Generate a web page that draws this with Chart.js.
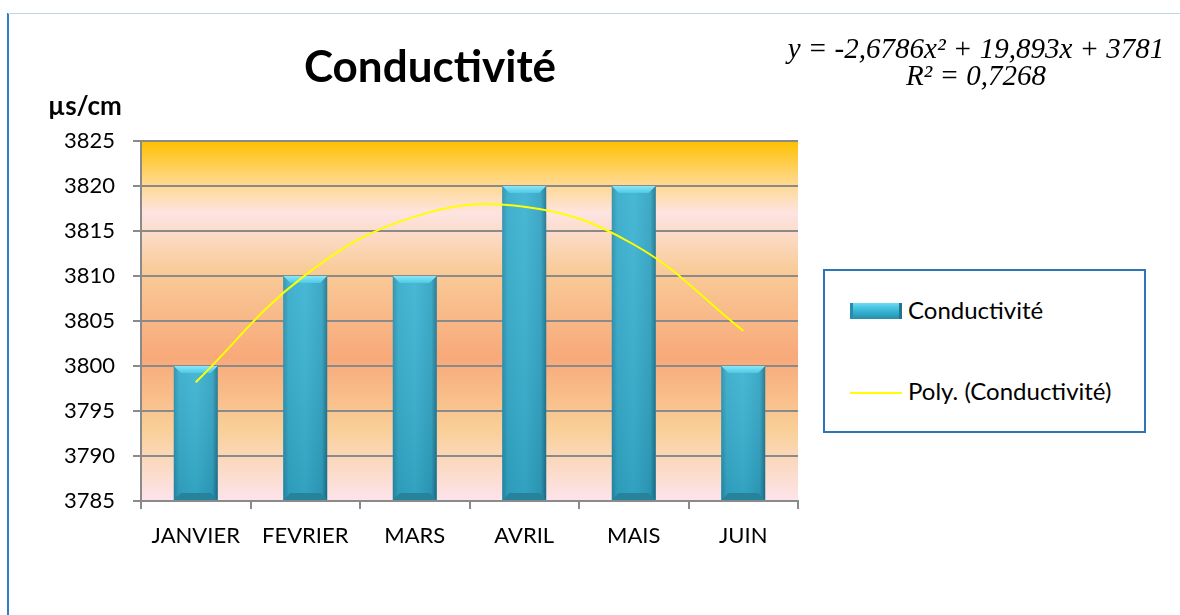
<!DOCTYPE html>
<html lang="fr">
<head>
<meta charset="utf-8">
<title>Conductivité</title>
<script src="https://cdn.jsdelivr.net/npm/chart.js@4.4.1/dist/chart.umd.min.js"></script>
<style>
  html, body { margin: 0; padding: 0; background: #fff; }
  #wrap { position: relative; width: 1180px; height: 615px; overflow: hidden; font-family: Lato, 'Open Sans', sans-serif; color: #000; }
  #chart { position: absolute; left: 0; top: 0; }
  .cadre-gauche { position: absolute; left: 7px; top: 13px; width: 2px; height: 602px; background: #2f7fc1; }
  .cadre-haut { position: absolute; left: 8px; top: 13px; right: 0; height: 1px; background: #bcd6ea; }
  #titre { position: absolute; left: 0; width: 860px; top: 43px; text-align: center; font-weight: bold; font-size: 44px; line-height: 44px; }
  #unite { position: absolute; left: 48px; top: 92px; font-weight: bold; font-size: 26px; line-height: 26px; }
  #equation { position: absolute; left: 766px; width: 420px; top: 35px; text-align: center; font-family: 'Liberation Serif', 'DejaVu Serif', serif; font-style: italic; font-size: 29px; line-height: 27px; }
  #legende { position: absolute; left: 823px; top: 269px; width: 323px; height: 164px; box-sizing: border-box; border: 2px solid #2e75b6; background: #fff; }
  .leg-texte { position: absolute; left: 908px; font-size: 24px; line-height: 24px; white-space: nowrap; }
  .leg-barre { position: absolute; left: 850px; top: 303px; width: 52px; height: 16px; box-sizing: border-box;
    background: linear-gradient(#6ddcf2 0%, #45c0de 35%, #33aece 60%, #2a8ca8 100%);
    border-left: 3px solid #2a8ca8; border-right: 3px solid #23748c; }
  .leg-ligne { position: absolute; left: 850px; top: 392px; width: 52px; height: 2px; background: #ffff00; }
</style>
</head>
<body>
<div id="wrap">
  <canvas id="chart" width="1180" height="615"></canvas>
  <div class="cadre-gauche"></div>
  <div class="cadre-haut"></div>
  <div id="titre">Conductivité</div>
  <div id="unite">µs/cm</div>
  <div id="equation">y = -2,6786x² + 19,893x + 3781<br>R² = 0,7268</div>
  <div id="legende"></div>
  <div class="leg-barre"></div>
  <div class="leg-texte" style="top: 298px;">Conductivité</div>
  <div class="leg-ligne"></div>
  <div class="leg-texte" style="top: 379px;">Poly. (Conductivité)</div>
</div>
<script>
// Mois (catégories)
const mois = ['JANVIER', 'FEVRIER', 'MARS', 'AVRIL', 'MAIS', 'JUIN'];
// Conductivité mesurée (µs/cm)
const conductivite = [3800, 3810, 3810, 3820, 3820, 3800];
// Courbe de tendance polynomiale
const tendance = [3798.2, 3810.1, 3816.6, 3817.7, 3813.5, 3803.9];
// Axe Y
const yMin = 3785;
const yMax = 3825;
const yPas = 5;

const grisAxe = '#8a8a8a';

// Fond dégradé de la zone de tracé
const fondPlugin = {
    id: 'fond',
    beforeDraw(chart) {
        const { ctx, chartArea: a } = chart;
        const g = ctx.createLinearGradient(0, a.top, 0, a.bottom);
        g.addColorStop(0, '#ffc000');
        g.addColorStop(0.1, '#ffd57a');
        g.addColorStop(0.2, '#fde4e2');
        g.addColorStop(0.36, '#f9cb98');
        g.addColorStop(0.6, '#f8a97a');
        g.addColorStop(0.8, '#f9cf98');
        g.addColorStop(1, '#fde4ec');
        ctx.save();
        ctx.fillStyle = g;
        ctx.fillRect(a.left, a.top, a.right - a.left, a.bottom - a.top);
        ctx.restore();
    }
};

// Effet biseauté des barres
const biseauPlugin = {
    id: 'biseau',
    afterDatasetDraw(chart, args) {
        if (args.index !== 0) return;
        const ctx = chart.ctx;
        const bas = chart.chartArea.bottom;
        args.meta.data.forEach(bar => {
            const { x, y, base, width } = bar.getProps(['x', 'y', 'base', 'width'], true);
            const b0 = Math.min(base, bas);
            const l = x - width / 2, r = x + width / 2, b = 7;
            ctx.save();
            // corps
            const g = ctx.createLinearGradient(l, 0, r, 0);
            g.addColorStop(0, '#2a8ca8');
            g.addColorStop(0.12, '#33aac9');
            g.addColorStop(0.5, '#38b2d2');
            g.addColorStop(0.88, '#2fa2c1');
            g.addColorStop(1, '#1f7088');
            ctx.fillStyle = g;
            ctx.fillRect(l, y, width, b0 - y);
            const gv = ctx.createLinearGradient(0, y, 0, b0);
            gv.addColorStop(0, 'rgba(255,255,255,0.08)');
            gv.addColorStop(1, 'rgba(0,40,60,0.12)');
            ctx.fillStyle = gv;
            ctx.fillRect(l, y, width, b0 - y);
            // biseau haut
            const gt = ctx.createLinearGradient(0, y, 0, y + b);
            gt.addColorStop(0, '#8ae8f8');
            gt.addColorStop(1, '#4cc8e4');
            ctx.fillStyle = gt;
            ctx.beginPath();
            ctx.moveTo(l, y);
            ctx.lineTo(r, y);
            ctx.lineTo(r - b, y + b);
            ctx.lineTo(l + b, y + b);
            ctx.closePath();
            ctx.fill();
            // biseau bas
            ctx.fillStyle = '#27829b';
            ctx.beginPath();
            ctx.moveTo(l, b0);
            ctx.lineTo(r, b0);
            ctx.lineTo(r - b, b0 - b);
            ctx.lineTo(l + b, b0 - b);
            ctx.closePath();
            ctx.fill();
            ctx.restore();
        });
    }
};

const ctx = document.getElementById('chart').getContext('2d');
new Chart(ctx, {
    data: {
        labels: mois,
        datasets: [
            {
                type: 'bar',
                label: 'Conductivité',
                data: conductivite,
                base: yMin,
                backgroundColor: '#33aece',
                barPercentage: 0.4,
                categoryPercentage: 1.0,
                order: 1
            },
            {
                type: 'line',
                label: 'Poly. (Conductivité)',
                data: tendance,
                borderColor: '#ffff00',
                borderWidth: 2,
                pointRadius: 0,
                tension: 0.4,
                fill: false,
                order: 0
            }
        ]
    },
    options: {
        responsive: false,
        animation: false,
        devicePixelRatio: 1,
        layout: {
            padding: { left: 0, top: 141, right: 382, bottom: 54 }
        },
        plugins: {
            legend: { display: false },
            title: { display: false },
            tooltip: { enabled: false }
        },
        scales: {
            x: {
                grid: {
                    offset: true,
                    drawOnChartArea: false,
                    drawTicks: true,
                    tickLength: 8,
                    color: grisAxe,
                    lineWidth: 2
                },
                border: { color: grisAxe, width: 2 },
                ticks: {
                    color: '#000',
                    font: { family: 'Lato', size: 22 },
                    padding: 14,
                    maxRotation: 0,
                    autoSkip: false
                },
                afterFit: s => { s.height = 60; }
            },
            y: {
                min: yMin,
                max: yMax,
                grid: {
                    color: grisAxe,
                    lineWidth: 2,
                    tickLength: 8
                },
                border: { color: grisAxe, width: 2 },
                ticks: {
                    stepSize: yPas,
                    color: '#000',
                    font: { family: 'Lato', size: 22 },
                    padding: 18,
                    callback: v => String(v)
                },
                afterFit: s => { s.width = 141; }
            }
        }
    },
    plugins: [fondPlugin, biseauPlugin]
});
</script>
</body>
</html>
